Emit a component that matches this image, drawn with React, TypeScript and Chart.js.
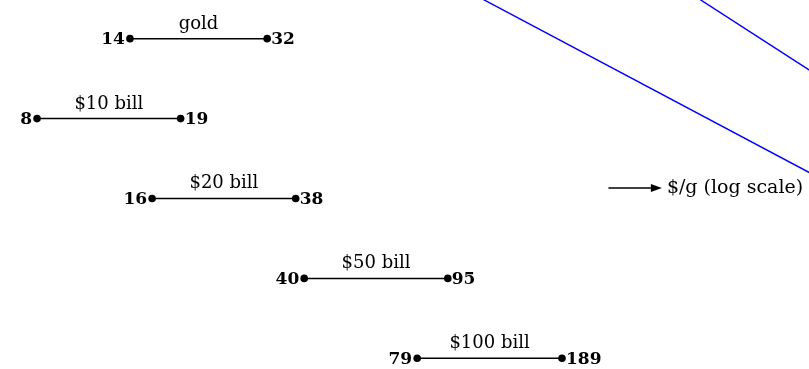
import React, { useEffect, useRef } from "react";
import { Chart, registerables } from "chart.js";

Chart.register(...registerables);

const categories = ["gold", "$10 bill", "$20 bill", "$50 bill", "$100 bill"];
const lowValues = [14, 8, 16, 40, 79];
const highValues = [32, 19, 38, 95, 189];

// two blue guide lines (x in $/g, y in row units)
const blueLineA = [
  { x: 100, y: -0.67 },
  { x: 1000, y: 1.87 },
];
const blueLineB = [
  { x: 400, y: -0.6 },
  { x: 1000, y: 0.63 },
];

const axisLabel = "$/g (log scale)";
const arrowFrom = 250;
const arrowTo = 345;
const arrowRow = 1.87;

const FONT = "'DejaVu Serif', 'Liberation Serif', serif";

const labelPlugin = {
  id: "dumbbellLabels",
  afterDatasetsDraw(chart: any) {
    const { ctx, scales } = chart;
    const xs = scales.x;
    const ys = scales.y;
    ctx.save();
    ctx.fillStyle = "#000";
    categories.forEach((name, i) => {
      const y = ys.getPixelForValue(i);
      const x1 = xs.getPixelForValue(lowValues[i]);
      const x2 = xs.getPixelForValue(highValues[i]);
      ctx.font = `bold 17px ${FONT}`;
      ctx.textBaseline = "middle";
      ctx.textAlign = "right";
      ctx.fillText(String(lowValues[i]), x1 - 5, y + 1);
      ctx.textAlign = "left";
      ctx.fillText(String(highValues[i]), x2 + 4, y + 1);
      ctx.font = `18px ${FONT}`;
      ctx.textAlign = "center";
      ctx.textBaseline = "alphabetic";
      ctx.fillText(name, (x1 + x2) / 2, y - 10);
    });
    // axis arrow
    const ay = ys.getPixelForValue(arrowRow);
    const ax1 = xs.getPixelForValue(arrowFrom);
    const ax2 = xs.getPixelForValue(arrowTo);
    ctx.strokeStyle = "#000";
    ctx.lineWidth = 1.5;
    ctx.beginPath();
    ctx.moveTo(ax1, ay);
    ctx.lineTo(ax2 - 8, ay);
    ctx.stroke();
    ctx.beginPath();
    ctx.moveTo(ax2, ay);
    ctx.lineTo(ax2 - 11, ay - 4);
    ctx.lineTo(ax2 - 11, ay + 4);
    ctx.closePath();
    ctx.fill();
    ctx.font = `19px ${FONT}`;
    ctx.textAlign = "left";
    ctx.textBaseline = "middle";
    ctx.fillText(axisLabel, ax2 + 5, ay);
    ctx.restore();
  },
};

export default function App() {
  const ref = useRef<HTMLCanvasElement | null>(null);
  useEffect(() => {
    document.body.style.margin = "0";
    const canvas = ref.current!;
    const datasets: any[] = categories.map((name, i) => ({
      label: name,
      data: [
        { x: lowValues[i], y: i },
        { x: highValues[i], y: i },
      ],
      borderColor: "#000",
      backgroundColor: "#000",
      borderWidth: 1.5,
      pointRadius: 3.8,
      pointBorderWidth: 0,
      showLine: true,
    }));
    datasets.push(
      {
        label: "a",
        data: blueLineA,
        borderColor: "#0000ff",
        borderWidth: 1.4,
        pointRadius: 0,
        showLine: true,
      },
      {
        label: "b",
        data: blueLineB,
        borderColor: "#0000ff",
        borderWidth: 1.4,
        pointRadius: 0,
        showLine: true,
      }
    );
    const chart = new Chart(canvas, {
      type: "scatter",
      data: { datasets },
      options: {
        responsive: false,
        animation: false,
        layout: { padding: 0, autoPadding: false } as any,
        plugins: { legend: { display: false }, tooltip: { enabled: false } },
        scales: {
          x: { type: "logarithmic", min: 6.4, max: 837, display: false },
          y: { type: "linear", min: -0.484, max: 4.134, reverse: true, display: false },
        },
      },
      plugins: [labelPlugin],
    });
    return () => chart.destroy();
  }, []);
  return (
    <div style={{ position: "absolute", left: 0, top: 0, width: 809, height: 369 }}>
      <canvas ref={ref} width={809} height={369} style={{ width: 809, height: 369 }} />
    </div>
  );
}
